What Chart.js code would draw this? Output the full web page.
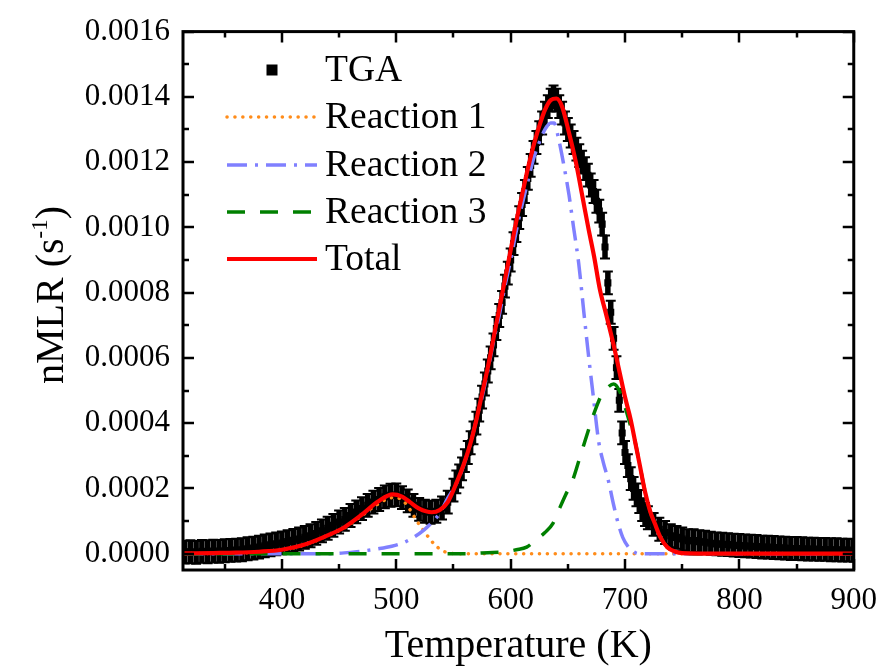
<!DOCTYPE html>
<html>
<head>
<meta charset="utf-8">
<script src="https://cdn.jsdelivr.net/npm/chart.js@4.4.1/dist/chart.umd.min.js"></script>
<style>
html,body{margin:0;padding:0;background:#fff;}
#wrap{width:889px;height:669px;position:relative;}
</style>
</head>
<body>
<div id="wrap"><canvas id="c"></canvas></div>
<script>
// ---------- DATA ----------
const xTitle = "Temperature (K)";
const yTitleMain = "nMLR (s";
const yTitleSup = "-1";
const yTitleEnd = ")";
const seriesNames = ["TGA", "Reaction 1", "Reaction 2", "Reaction 3", "Total"];
const xTicks = [400, 500, 600, 700, 800, 900];
const xMinorTicks = [350, 450, 550, 650, 750, 850];
const yTicks = [0, 0.0002, 0.0004, 0.0006, 0.0008, 0.0010, 0.0012, 0.0014, 0.0016];
const yMinorTicks = [0.0001, 0.0003, 0.0005, 0.0007, 0.0009, 0.0011, 0.0013, 0.0015];

// TGA measurements (temperature K, nMLR s^-1) and error half-width
const tgaT = [315,320,325,330,335,340,345,350,355,360,365,370,375,380,385,390,395,400,405,410,415,420,425,430,435,440,445,450,455,460,465,470,475,480,485,490,495,500,505,510,515,520,525,530,535,540,545,550,552.5,555,557.5,560,562.5,565,567.5,570,572.5,575,577.5,580,582.5,585,587.5,590,592.5,595,597.5,600,602.5,605,607.5,610,612.5,615,617.5,620,622.5,625,627.5,630,632.5,635,637.5,640,642.5,645,647.5,650,652.5,655,657.5,660,662.5,665,667.5,670,672.5,675,677.5,680,682.5,685,687.5,690,692.5,695,697.5,700,702.5,705,707.5,710,712.5,715,717.5,720,725,730,735,740,745,750,755,760,765,770,775,780,785,790,795,800,805,810,815,820,825,830,835,840,845,850,855,860,865,870,875,880,885,890,895,900];
const tgaV = [0.000005,0.000006,0.000004,0.000007,0.000006,0.000008,0.000007,0.000009,0.00001,0.000011,0.000012,0.000015,0.000017,0.00002,0.000024,0.000027,0.00003,0.000033,0.000037,0.000041,0.000045,0.00005,0.000055,0.000062,0.00007,0.000078,0.000087,0.000097,0.000105,0.000117,0.000128,0.000138,0.000148,0.000158,0.000166,0.000174,0.000179,0.00018,0.000172,0.000162,0.000148,0.000136,0.00013,0.000127,0.00013,0.00014,0.000158,0.000195,0.00022,0.000238,0.00026,0.000285,0.00031,0.00034,0.00037,0.0004,0.00044,0.00048,0.00052,0.00056,0.0006,0.00064,0.00069,0.00073,0.00077,0.00082,0.00086,0.0009,0.00095,0.00099,0.00103,0.00107,0.00111,0.00115,0.00119,0.00123,0.00126,0.00129,0.00132,0.00135,0.00137,0.00139,0.0014,0.00139,0.00137,0.00135,0.00132,0.0013,0.00128,0.00126,0.00124,0.00122,0.0012,0.00118,0.00116,0.00113,0.00111,0.00108,0.00105,0.00101,0.00094,0.00083,0.00074,0.00066,0.00057,0.00047,0.00037,0.00031,0.00027,0.00023,0.0002,0.00018,0.00016,0.000135,0.00012,0.00011,0.00009,0.000075,0.000065,0.000055,0.00005,0.000045,0.00004,0.00004,0.000037,0.000035,0.000032,0.00003,0.000029,0.000028,0.000026,0.000025,0.000024,0.000023,0.000022,0.00002,0.00002,0.000019,0.000018,0.000017,0.000016,0.000016,0.000015,0.000014,0.000014,0.000013,0.000013,0.000012,0.000012,0.000011,0.000011,0.00001];
const tgaErr = 0.000035;

// Reaction 1
const r1T = [314,360,380,400,420,440,455,470,484,497,505,512,518,524.6,530,536,541,547,555,900];
const r1V = [0,0.000002,0.000005,0.000011,0.000027,0.000055,0.00008,0.000117,0.000152,0.000172,0.000165,0.000135,0.0001,0.000068,0.000042,0.00002,0.000008,0.000002,0,0];
// Reaction 2
const r2T = [314,440,460,470,484,496,507,516,524.6,531,538,545,553,559,565,570,575,580,585,590,595,600,605,610,615,620,625,630,635,638,642,646,651,655,659.5,664,668,672,677,681,685.5,690,694,698,703,708,712,900];
const r2V = [0,0,0.000004,0.000008,0.000015,0.000023,0.000035,0.000052,0.000074,0.000095,0.000124,0.00017,0.000218,0.000272,0.00034,0.00041,0.00048,0.00056,0.00065,0.00073,0.00082,0.0009,0.00099,0.00107,0.00114,0.00121,0.00126,0.0013,0.00132,0.00132,0.00127,0.0012,0.0011,0.001,0.00089,0.00074,0.00061,0.00049,0.000343,0.00028,0.000223,0.00015,0.000093,0.00005,0.00002,0.000005,0,0];
// Reaction 3
const r3T = [314,560,580,595,605,614,622,630,637,642,648,654,659.5,664,670,675,680,685,690,695,700,705,709,713,717.5,722,726,731,737,744,750,760,900];
const r3V = [0,0,0.000003,0.000006,0.000012,0.00002,0.000042,0.000065,0.000093,0.000133,0.00018,0.000223,0.000283,0.000334,0.0004,0.00045,0.00049,0.00051,0.00052,0.0005,0.00045,0.00039,0.00034,0.00027,0.00019,0.00013,0.000093,0.00005,0.00002,0.000006,0.000002,0,0];
// Total
const totT = [314,340,360,380,400,420,440,455,470,484,497,505,512,520,531,538,545,553,559,565,570,575,580,585,590,595,600,605,610,615,620,625,630,635,640,645,651,657,663,668,673,678,683,690,695,700,705,709,713,717.5,722,726,731,737,744,750,800,900];
const totV = [0.000001,0.000002,0.000003,0.000006,0.000012,0.000028,0.000056,0.000082,0.00012,0.00016,0.000182,0.000175,0.000158,0.000138,0.000127,0.000134,0.000158,0.00022,0.000274,0.00034,0.00041,0.00049,0.00057,0.00066,0.00075,0.00084,0.00093,0.00102,0.0011,0.00118,0.00125,0.00131,0.00136,0.00139,0.001395,0.00137,0.00129,0.0012,0.00109,0.000997,0.00091,0.00081,0.00074,0.00064,0.00056,0.00048,0.00041,0.00034,0.00027,0.00019,0.00013,0.000093,0.00005,0.00002,0.000006,0.000002,0,0];

// ---------- BUILD ----------
const pts = (T, V) => T.map((t, i) => ({x: t, y: V[i]}));
const FONT = "'Liberation Serif', 'Times New Roman', serif";

const datasets = [
  {label: seriesNames[0], data: pts(tgaT, tgaV), showLine: false, pointStyle: 'rect',
   pointRadius: 5, backgroundColor: '#000', borderColor: '#000', borderWidth: 0, order: 5, isTGA: true},
  {label: seriesNames[1], data: pts(r1T, r1V), showLine: true, pointRadius: 0, borderColor: '#FF8C1A',
   borderWidth: 3.5, borderDash: [0.1, 7.8], borderCapStyle: 'round', cubicInterpolationMode: 'monotone', order: 4},
  {label: seriesNames[2], data: pts(r2T, r2V), showLine: true, pointRadius: 0, borderColor: '#8080FF',
   borderWidth: 3.5, borderDash: [20, 8, 3, 8], cubicInterpolationMode: 'monotone', order: 3},
  {label: seriesNames[3], data: pts(r3T, r3V), showLine: true, pointRadius: 0, borderColor: '#008000',
   borderWidth: 3.5, borderDash: [18, 15], cubicInterpolationMode: 'monotone', order: 2},
  {label: seriesNames[4], data: pts(totT, totV), showLine: true, pointRadius: 0, borderColor: '#FF0000',
   borderWidth: 4.2, cubicInterpolationMode: 'monotone', order: 1}
];

const errorBarPlugin = {
  id: 'errorBars',
  beforeDatasetDraw(chart, args) {
    const ds = chart.data.datasets[args.index];
    if (!ds.isTGA) return;
    const ctx = chart.ctx, xs = chart.scales.x, ys = chart.scales.y, a = chart.chartArea;
    ctx.save();
    ctx.beginPath(); ctx.rect(a.left, a.top, a.right - a.left, a.bottom - a.top); ctx.clip();
    ctx.strokeStyle = '#000';
    ds.data.forEach(p => {
      const px = xs.getPixelForValue(p.x);
      const y1 = ys.getPixelForValue(p.y - tgaErr), y2 = ys.getPixelForValue(p.y + tgaErr);
      ctx.lineWidth = 5.5;
      ctx.beginPath();
      ctx.moveTo(px, y1); ctx.lineTo(px, y2);
      ctx.stroke();
      ctx.lineWidth = 2;
      ctx.beginPath();
      ctx.moveTo(px - 5, y1); ctx.lineTo(px + 5, y1);
      ctx.moveTo(px - 5, y2); ctx.lineTo(px + 5, y2);
      ctx.stroke();
    });
    ctx.restore();
  }
};

const framePlugin = {
  id: 'frame',
  afterDraw(chart) {
    const ctx = chart.ctx, xs = chart.scales.x, ys = chart.scales.y, a = chart.chartArea;
    ctx.save();
    ctx.strokeStyle = '#000'; ctx.lineWidth = 3;
    ctx.strokeRect(a.left, a.top, a.right - a.left, a.bottom - a.top);
    ctx.lineWidth = 2.5;
    const tick = (vals, len) => {
      vals.forEach(v => {
        const px = Math.round(xs.getPixelForValue(v));
        ctx.beginPath();
        ctx.moveTo(px, a.bottom); ctx.lineTo(px, a.bottom - len);
        ctx.moveTo(px, a.top); ctx.lineTo(px, a.top + len);
        ctx.stroke();
      });
    };
    const ytick = (vals, len) => {
      vals.forEach(v => {
        const py = Math.round(ys.getPixelForValue(v));
        ctx.beginPath();
        ctx.moveTo(a.left, py); ctx.lineTo(a.left + len, py);
        ctx.moveTo(a.right, py); ctx.lineTo(a.right - len, py);
        ctx.stroke();
      });
    };
    tick(xTicks, 11); tick(xMinorTicks, 6);
    ytick(yTicks, 11); ytick(yMinorTicks, 6);

    // axis titles
    ctx.fillStyle = '#000';
    ctx.font = "40px " + FONT;
    ctx.textAlign = 'center'; ctx.textBaseline = 'alphabetic';
    ctx.fillText(xTitle, (a.left + a.right) / 2, 657);

    ctx.save();
    ctx.translate(63, 295);
    ctx.rotate(-Math.PI / 2);
    ctx.font = "40px " + FONT;
    const w1 = ctx.measureText(yTitleMain).width;
    ctx.font = "23px " + FONT;
    const w2 = ctx.measureText(yTitleSup).width;
    ctx.font = "40px " + FONT;
    const w3 = ctx.measureText(yTitleEnd).width;
    let x0 = -(w1 + w2 + w3) / 2;
    ctx.textAlign = 'left';
    ctx.fillText(yTitleMain, x0, 0);
    ctx.font = "23px " + FONT;
    ctx.fillText(yTitleSup, x0 + w1, -16);
    ctx.font = "40px " + FONT;
    ctx.fillText(yTitleEnd, x0 + w1 + w2, 0);
    ctx.restore();

    // legend
    const rowsY = [70, 117, 165, 212, 259];
    const lx0 = 227, lx1 = 317, tx = 325;
    chart.data.datasets.forEach((ds, i) => {
      const y = rowsY[i];
      if (ds.isTGA) {
        ctx.fillStyle = '#000';
        ctx.fillRect(272 - 5.5, y - 5.5, 11, 11);
      } else {
        ctx.save();
        ctx.strokeStyle = ds.borderColor;
        ctx.lineWidth = ds.borderWidth;
        ctx.setLineDash(ds.borderDash || []);
        ctx.lineCap = ds.borderCapStyle || 'butt';
        ctx.beginPath(); ctx.moveTo(lx0, y); ctx.lineTo(lx1, y); ctx.stroke();
        ctx.restore();
      }
      ctx.fillStyle = '#000';
      ctx.font = "37.5px " + FONT;
      ctx.textAlign = 'left'; ctx.textBaseline = 'middle';
      ctx.fillText(ds.label, tx, y + 1);
    });
    ctx.restore();
  }
};

new Chart(document.getElementById('c'), {
  type: 'scatter',
  data: {datasets},
  options: {
    responsive: true, maintainAspectRatio: false, animation: false,
    devicePixelRatio: 1,
    layout: {padding: {top: 23, right: 28, left: 0, bottom: 0}},
    plugins: {legend: {display: false}, tooltip: {enabled: false}},
    scales: {
      x: {
        type: 'linear', min: 313.5, max: 900,
        afterBuildTicks: s => { s.ticks = xTicks.map(v => ({value: v})); },
        afterFit: s => { s.height = 99; },
        grid: {display: false, drawTicks: false},
        border: {display: false},
        ticks: {color: '#000', font: {family: FONT, size: 31}, padding: 12, maxRotation: 0, autoSkip: false,
                callback: v => String(v)}
      },
      y: {
        type: 'linear', min: -0.00005, max: 0.0016,
        afterBuildTicks: s => { s.ticks = yTicks.map(v => ({value: v})); },
        afterFit: s => { s.width = 183; },
        grid: {display: false, drawTicks: false},
        border: {display: false},
        ticks: {color: '#000', font: {family: FONT, size: 31}, padding: 13, autoSkip: false,
                callback: v => v.toFixed(4)}
      }
    }
  },
  plugins: [errorBarPlugin, framePlugin]
});
</script>
</body>
</html>
